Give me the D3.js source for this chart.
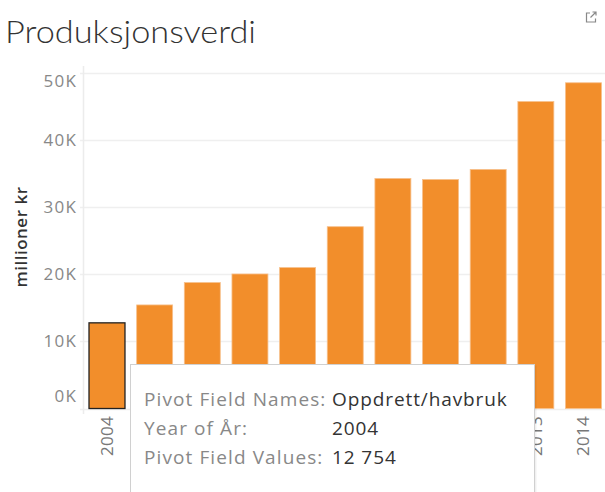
<!DOCTYPE html>
<html>
<head>
<meta charset="utf-8">
<script src="https://cdn.jsdelivr.net/npm/d3@7.9.0/dist/d3.min.js"></script>
<style>
  html, body { margin: 0; padding: 0; background: #fff; overflow: hidden; }
  svg { display: block; font-family: "Open Sans", "Noto Sans", sans-serif; }
</style>
</head>
<body>
<svg id="chart"></svg>
<script>
// Chart data
const years = ['2004', '2005', '2006', '2007', '2008', '2009', '2010', '2011', '2012', '2013', '2014'];
const values = [12754, 15420, 18750, 20030, 20980, 27070, 34250, 34100, 35600, 45700, 48500];
const yTicks = [0, 10000, 20000, 30000, 40000, 50000];
const selectedYear = '2004';

// Tooltip rows
const tooltipLabels = ['Pivot Field Names:', 'Year of År:', 'Pivot Field Values:'];
const tooltipValues = ['Oppdrett/havbruk', '2004', '12 754'];

const width = 605;
const height = 492;

const svg = d3.select('#chart')
  .attr('width', width)
  .attr('height', height);

// Title
svg.append('text')
  .attr('x', 5)
  .attr('y', 43)
  .attr('font-family', 'Lato, "Open Sans", sans-serif')
  .attr('font-size', 31)
  .attr('font-weight', 300)
  .attr('fill', '#333')
  .attr('textLength', 251)
  .attr('lengthAdjust', 'spacingAndGlyphs')
  .text('Produksjonsverdi');

// External link icon
const icon = svg.append('g')
  .attr('fill', 'none')
  .attr('stroke', '#888')
  .attr('stroke-width', 1.2);
icon.append('path').attr('d', 'M590,13 h-3.5 v9 h9 v-3.5');
icon.append('path').attr('d', 'M590.5,17.5 L596,12 M592.5,12 h3.5 v3.5');

// Scales
const x = d3.scaleBand()
  .domain(years)
  .range([83, 607.5])
  .paddingInner(0.245)
  .paddingOuter(0.126);

const y = d3.scaleLinear()
  .domain([0, 50000])
  .range([408.5, 72.7]);

// Gridlines
svg.append('g')
  .selectAll('line')
  .data(yTicks)
  .join('line')
  .attr('x1', 80)
  .attr('x2', width)
  .attr('y1', d => Math.round(y(d)) + 0.5)
  .attr('y2', d => Math.round(y(d)) + 0.5)
  .attr('stroke', '#efefef')
  .attr('stroke-width', 1.5);

// Axis line
svg.append('line')
  .attr('x1', 83.5).attr('x2', 83.5)
  .attr('y1', 66).attr('y2', 414)
  .attr('stroke', '#ececec')
  .attr('stroke-width', 1.5);

// Y axis tick labels (end labels nudged inside like Tableau does)
const yAxis = svg.append('g')
  .attr('transform', 'translate(77,0)')
  .call(d3.axisLeft(y).tickValues(yTicks).tickSize(0).tickPadding(0)
    .tickFormat(d => d / 1000 + 'K'));
yAxis.select('.domain').remove();
yAxis.selectAll('text')
  .attr('font-family', '"Open Sans", sans-serif')
  .attr('font-size', 17)
  .attr('letter-spacing', 1.2)
  .attr('fill', '#888')
  .attr('y', d => d === 0 ? -12 : d === 50000 ? 8 : 0);

// Y axis title
svg.append('text')
  .attr('transform', 'translate(27,237) rotate(-90)')
  .attr('text-anchor', 'middle')
  .attr('font-size', 17)
  .attr('font-weight', 600)
  .attr('letter-spacing', 0.5)
  .attr('fill', '#333')
  .text('millioner kr');

// Bars
svg.append('g')
  .selectAll('rect')
  .data(years)
  .join('rect')
  .attr('x', d => x(d))
  .attr('width', x.bandwidth())
  .attr('y', (d, i) => y(values[i]))
  .attr('height', (d, i) => y(0) - y(values[i]))
  .attr('fill', '#f28e2b')
  .attr('stroke', d => d === selectedYear ? '#222' : '#f7c08c')
  .attr('stroke-width', d => d === selectedYear ? 1.3 : 0.8);

// X axis year labels
const xAxis = svg.append('g')
  .attr('transform', 'translate(0,415)')
  .call(d3.axisBottom(x).tickSize(0).tickPadding(0));
xAxis.select('.domain').remove();
xAxis.selectAll('text')
  .attr('font-family', '"Open Sans", sans-serif')
  .attr('font-size', 17)
  .attr('letter-spacing', 0.3)
  .attr('fill', '#777')
  .attr('transform', 'rotate(-90)')
  .attr('text-anchor', 'end')
  .attr('dy', '0.35em')
  .attr('x', -1)
  .attr('y', 0);

// Tooltip
const tip = svg.append('g').attr('transform', 'translate(130,364)');
tip.append('rect')
  .attr('x', 1.5).attr('y', 1.5)
  .attr('width', 405).attr('height', 140)
  .attr('fill', '#000')
  .attr('opacity', 0.06);
tip.append('rect')
  .attr('x', 0.5).attr('y', 0.5)
  .attr('width', 404).attr('height', 140)
  .attr('fill', '#fff')
  .attr('stroke', '#d0d0d0');

const rows = tip.append('g')
  .selectAll('g')
  .data(tooltipLabels)
  .join('g')
  .attr('transform', (d, i) => `translate(0,${42 + i * 29})`);

rows.append('text')
  .attr('x', 14)
  .attr('font-size', 19)
  .attr('letter-spacing', 1.1)
  .attr('fill', '#888')
  .text(d => d);

rows.append('text')
  .attr('x', 202)
  .attr('font-size', 19)
  .attr('letter-spacing', 0.9)
  .attr('fill', '#333')
  .text((d, i) => tooltipValues[i]);
</script>
</body>
</html>
